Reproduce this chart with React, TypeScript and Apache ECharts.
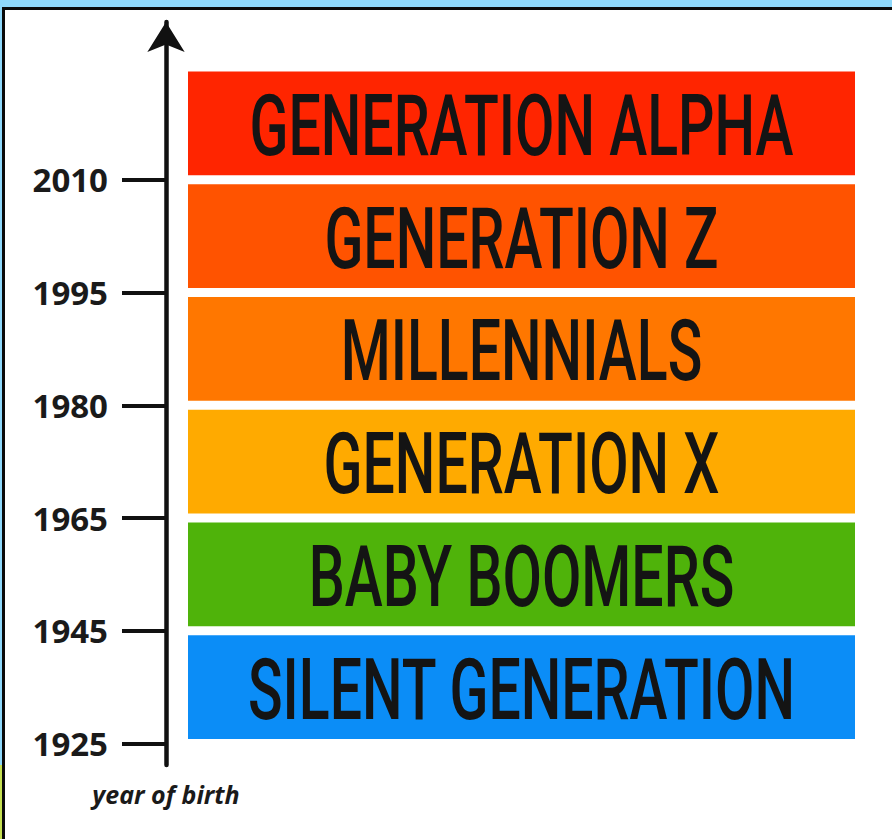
import React, { useEffect, useRef } from "react";
import * as echarts from "echarts";

const generations = [
  "SILENT GENERATION",
  "BABY BOOMERS",
  "GENERATION X",
  "MILLENNIALS",
  "GENERATION Z",
  "GENERATION ALPHA",
];
const startYears = ["1925", "1945", "1965", "1980", "1995", "2010"];
const bandColors = ["#0b8df7", "#4fb30a", "#ffaa00", "#ff7700", "#ff5300", "#ff2500"];
const tickPositions = [0, 1, 2, 3, 4, 5];

export default function App() {
  const ref = useRef<HTMLDivElement>(null);
  useEffect(() => {
    if (!ref.current) return;
    const chart = echarts.init(ref.current, null, { renderer: "svg" });
    const gap = 0.04;
    chart.setOption({
      animation: false,
      backgroundColor: "transparent",
      grid: { left: 188, right: 37, top: 22, bottom: 74, containLabel: false },
      xAxis: { type: "value", min: 0, max: 1, show: false },
      yAxis: {
        type: "value",
        min: -0.19,
        max: 6.4,
        offset: 22,
        name: "year of birth",
        nameLocation: "start",
        nameGap: 16,
        nameTextStyle: {
          fontFamily: "Open Sans",
          fontStyle: "italic",
          fontWeight: "bold",
          fontSize: 25,
          color: "#1a1a1a",
          letterSpacing: -0.8,
        },
        axisLine: {
          show: true,
          onZero: false,
          symbol: ["none", "arrow"],
          symbolSize: [28, 30],
          lineStyle: { color: "#111", width: 4.5 },
        },
        axisTick: {
          show: true,
          length: 44,
          customValues: tickPositions,
          lineStyle: { color: "#111", width: 4 },
        },
        axisLabel: {
          show: true,
          customValues: tickPositions,
          margin: 58,
          formatter: (v: number) => startYears[Math.round(v)] ?? "",
          fontFamily: "Open Sans",
          fontWeight: "bold",
          fontSize: 33,
          letterSpacing: 1.5,
          color: "#1a1a1a",
        },
        splitLine: { show: false },
      },
      series: [
        {
          type: "custom",
          data: generations.map((g, i) => [i, g]),
          renderItem: (params: any, api: any) => {
            const i = api.value(0);
            const p0 = api.coord([0, i + 1 - gap]);
            const p1 = api.coord([1, i + gap]);
            const cx = (p0[0] + p1[0]) / 2;
            const cy = (p0[1] + p1[1]) / 2;
            return {
              type: "group",
              children: [
                {
                  type: "rect",
                  shape: { x: p0[0], y: p0[1], width: p1[0] - p0[0], height: p1[1] - p0[1] },
                  style: { fill: bandColors[i] },
                },
                {
                  type: "text",
                  x: cx,
                  y: cy + 2,
                  scaleX: 0.665,
                  style: {
                    text: generations[i],
                    fontFamily: "Roboto",
                    fontWeight: 500,
                    fontSize: 86,
                    fill: "#141414",
                    align: "center",
                    verticalAlign: "middle",
                  },
                },
              ],
            };
          },
        },
      ],
    });
    return () => chart.dispose();
  }, []);

  return (
    <div style={{ position: "fixed", left: 0, top: 0, width: 892, height: 839, background: "#fff", overflow: "hidden" }}>
      <div ref={ref} style={{ position: "absolute", left: 0, top: 0, width: 892, height: 839 }} />
      <div style={{ position: "absolute", left: 0, top: 0, width: 892, height: 7, background: "#8ed8fb" }} />
      <div style={{ position: "absolute", left: 2, top: 7, width: 890, height: 3, background: "#0a0a0a" }} />
      <div style={{ position: "absolute", left: 0, top: 7, width: 2, height: 758, background: "#8ed8fb" }} />
      <div style={{ position: "absolute", left: 0, top: 765, width: 2, height: 74, background: "#c5df52" }} />
      <div style={{ position: "absolute", left: 2, top: 7, width: 3, height: 832, background: "#0a0a0a" }} />
    </div>
  );
}
